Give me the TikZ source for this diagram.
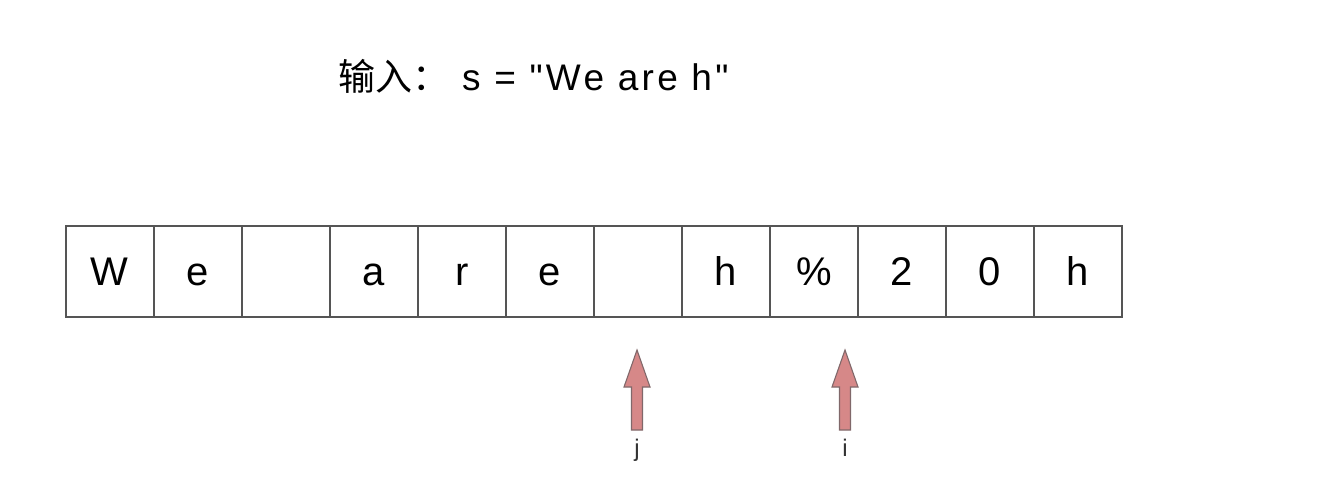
\documentclass[tikz,border=0pt]{standalone}
\usepackage{fontspec}
\setmainfont{Liberation Sans}
\newfontfamily\plainsans{Liberation Sans}[Ligatures=TeXOff]
\newfontfamily\cjk{Noto Sans CJK SC}
\definecolor{linegray}{HTML}{555555}
\definecolor{arrowfill}{HTML}{D68888}
\definecolor{arrowdraw}{HTML}{80686A}
\begin{document}
\begin{tikzpicture}[x=1pt,y=-1pt,
  cell/.style={draw=linegray, line width=1.6pt, minimum width=88pt, minimum height=91pt,
    inner sep=0pt, anchor=north west, font=\fontsize{40}{42}\selectfont,
    text height=28.6pt, text depth=0pt},
  ptr/.style={fill=arrowfill, draw=arrowdraw, line width=1.1pt, line join=miter},
  plabel/.style={font=\fontsize{24}{26}\selectfont, inner sep=0pt, anchor=north, text=black!80}]
\useasboundingbox (0,0) rectangle (1320,482);
\node[anchor=base west, inner sep=0pt, font=\fontsize{37}{39}\selectfont] (title) at (338,90)
  {{\cjk 输入：}\hspace{13pt}{\plainsans\addfontfeature{LetterSpace=9}s = "We are h"}};
\foreach \t [count=\k] in {W,e,{},a,r,e,{},h,\%,2,0,h}{
  \node[cell] (c\k) at ({65+88*(\k-1)},225) {\t};
}
\node[plabel] (j) at (637,439) {j};
\node[plabel] (i) at (845,439) {i};
\foreach \n/\x in {j/637,i/845}{
  \draw[ptr] (\x,350) -- (\x+13,387) -- (\x+5.5,387) -- (\x+5.5,430) -- (\x-5.5,430) -- (\x-5.5,387) -- (\x-13,387) -- cycle;
}
\end{tikzpicture}
\end{document}
